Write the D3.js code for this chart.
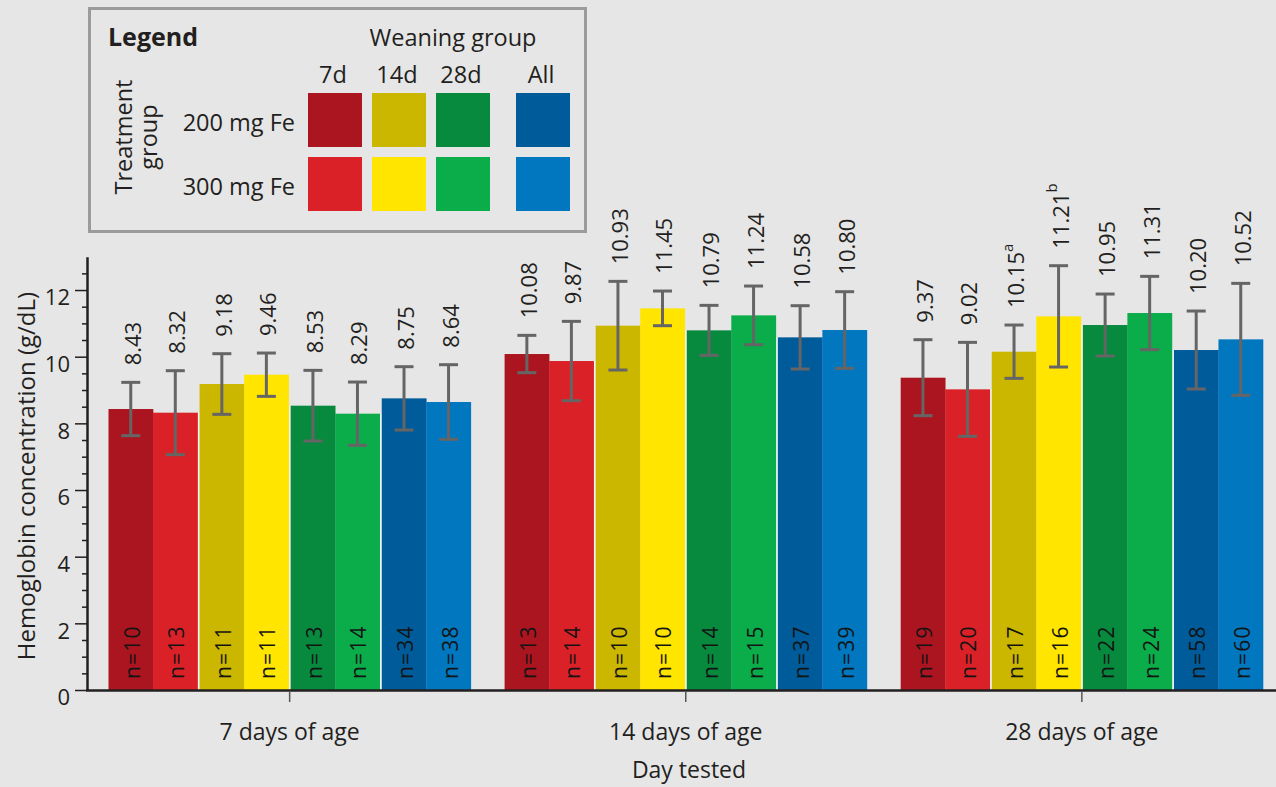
<!DOCTYPE html>
<html><head><meta charset="utf-8">
<script src="https://cdn.jsdelivr.net/npm/d3@7"></script>
<style>
body{margin:0;background:#e6e6e6}
svg{display:block}
text{font-family:"Open Sans",sans-serif;fill:#231f20}
</style>
</head><body><svg id="c" width="1276" height="787"></svg>
<script>
// ---- data ----
const days = ["7 days of age", "14 days of age", "28 days of age"];
const weaning = ["7d", "14d", "28d", "All"];
const treatments = ["200 mg Fe", "300 mg Fe"];
// order within each day: 7d-200, 7d-300, 14d-200, 14d-300, 28d-200, 28d-300, All-200, All-300
const mean7  = [8.43, 8.32, 9.18, 9.46, 8.53, 8.29, 8.75, 8.64];
const mean14 = [10.08, 9.87, 10.93, 11.45, 10.79, 11.24, 10.58, 10.80];
const mean28 = [9.37, 9.02, 10.15, 11.21, 10.95, 11.31, 10.20, 10.52];
const sd7  = [0.80, 1.26, 0.91, 0.65, 1.06, 0.95, 0.95, 1.12];
const sd14 = [0.56, 1.19, 1.33, 0.52, 0.75, 0.88, 0.95, 1.15];
const sd28 = [1.14, 1.41, 0.80, 1.52, 0.93, 1.10, 1.17, 1.68];
const n7  = [10, 13, 11, 11, 13, 14, 34, 38];
const n14 = [13, 14, 10, 10, 14, 15, 37, 39];
const n28 = [19, 20, 17, 16, 22, 24, 58, 60];
const sup7  = ["", "", "", "", "", "", "", ""];
const sup14 = ["", "", "", "", "", "", "", ""];
const sup28 = ["", "", "a", "b", "", "", "", ""];
const yMajorTicks = [0, 2, 4, 6, 8, 10, 12];
const colors200 = ["#ab1520", "#cbb600", "#078a3e", "#005b9a"];
const colors300 = ["#da2128", "#ffe500", "#0bac4a", "#0077bf"];

const means = [mean7, mean14, mean28], sds = [sd7, sd14, sd28], ns = [n7, n14, n28], sups = [sup7, sup14, sup28];
const rows = [];
days.forEach((d, di) => {
  means[di].forEach((m, i) => {
    rows.push({day: d, wean: weaning[Math.floor(i / 2)], treat: treatments[i % 2],
      mean: m, sd: sds[di][i], n: ns[di][i], sup: sups[di][i],
      color: (i % 2 === 0 ? colors200 : colors300)[Math.floor(i / 2)]});
  });
});

// ---- chart ----
const svg = d3.select("#c");
svg.append("rect").attr("width", 1276).attr("height", 787).attr("fill", "#e6e6e6");

const x0 = d3.scaleBand().domain(days).range([108.5, 1263]).paddingInner(0.0853).paddingOuter(0);
const x1 = d3.scaleBand().domain(weaning).range([0, x0.bandwidth()]).paddingInner(0.0222);
const x2 = d3.scaleBand().domain(treatments).range([0, x1.bandwidth()]);
const y = d3.scaleLinear().domain([0, 13]).range([690, 256.7]);

const xb = d => x0(d.day) + x1(d.wean) + x2(d.treat);
const xc = d => xb(d) + x2.bandwidth() / 2;

// light separators between weaning subgroups
const seps = [];
days.forEach(d => {
  for (let k = 1; k < weaning.length; k++) {
    const left = rows.find(r => r.day === d && r.wean === weaning[k - 1] && r.treat === treatments[1]);
    const right = rows.find(r => r.day === d && r.wean === weaning[k] && r.treat === treatments[0]);
    seps.push({x: x0(d) + x1(weaning[k - 1]) + x1.bandwidth(), x2: x0(d) + x1(weaning[k]), v: Math.min(left.mean, right.mean)});
  }
});
svg.append("g").selectAll("rect").data(seps).join("rect")
  .attr("x", s => s.x).attr("width", s => s.x2 - s.x)
  .attr("y", s => y(s.v)).attr("height", s => y(0) - y(s.v))
  .attr("fill", "#f6f6f6");

// bars
svg.append("g").selectAll("rect").data(rows).join("rect")
  .attr("x", xb).attr("width", x2.bandwidth() + 0.3)
  .attr("y", d => y(d.mean)).attr("height", d => y(0) - y(d.mean))
  .attr("fill", d => d.color);

// error bars
const eg = svg.append("g").attr("stroke", "#656565").attr("stroke-width", 3);
eg.selectAll("line.v").data(rows).join("line").attr("class", "v")
  .attr("x1", xc).attr("x2", xc)
  .attr("y1", d => y(d.mean + d.sd)).attr("y2", d => y(d.mean - d.sd));
eg.selectAll("line.t").data(rows).join("line").attr("class", "t")
  .attr("x1", d => xc(d) - 9.5).attr("x2", d => xc(d) + 9.5)
  .attr("y1", d => y(d.mean + d.sd)).attr("y2", d => y(d.mean + d.sd));
eg.selectAll("line.b").data(rows).join("line").attr("class", "b")
  .attr("x1", d => xc(d) - 9.5).attr("x2", d => xc(d) + 9.5)
  .attr("y1", d => y(d.mean - d.sd)).attr("y2", d => y(d.mean - d.sd));

// value labels
const vl = svg.append("g").selectAll("text").data(rows).join("text")
  .attr("transform", d => `translate(${xc(d) + 1},${y(d.mean + d.sd) - 17}) rotate(-90)`)
  .attr("text-anchor", "start").attr("dominant-baseline", "central")
  .style("font-size", "22px");
vl.append("tspan").text(d => d.mean.toFixed(2));
vl.filter(d => d.sup).append("tspan").attr("dy", "-0.55em").style("font-size", "15px").text(d => d.sup);

// n labels
svg.append("g").selectAll("text").data(rows).join("text")
  .attr("transform", d => `translate(${xc(d) + 1},${679}) rotate(-90)`)
  .attr("text-anchor", "start").attr("dominant-baseline", "central")
  .style("font-size", "21px").style("letter-spacing", "1.2px")
  .style("fill", "#141414").style("font-weight", "500")
  .text(d => "n=" + d.n);

// y axis
const yMinor = d3.range(0.5, 13, 0.5).filter(v => !yMajorTicks.includes(v));
const yMinorAxis = svg.append("g").attr("transform", "translate(87,0)")
  .call(d3.axisLeft(y).tickValues(yMinor).tickSize(5).tickFormat(""));
yMinorAxis.select(".domain").remove();
yMinorAxis.selectAll("line").attr("stroke", "#231f20").attr("stroke-width", 1.5);
const yAxis = svg.append("g").attr("transform", "translate(87,0)")
  .call(d3.axisLeft(y).tickValues(yMajorTicks).tickSize(12).tickPadding(5).tickSizeOuter(0));
yAxis.select(".domain").attr("stroke", "#231f20").attr("stroke-width", 2.5);
yAxis.selectAll(".tick line").attr("stroke", "#231f20").attr("stroke-width", 1.5);
yAxis.selectAll(".tick text").attr("dy", "0.68em").style("font-size", "22px")
  .style("font-family", '"Open Sans",sans-serif').attr("fill", "#231f20");

// x axis
svg.append("line").attr("x1", 86).attr("x2", 1276).attr("y1", 690.5).attr("y2", 690.5)
  .attr("stroke", "#231f20").attr("stroke-width", 2.5);
const xAxis = svg.append("g").attr("transform", "translate(0,691)")
  .call(d3.axisBottom(x0).tickSize(11).tickSizeOuter(0));
xAxis.select(".domain").remove();
xAxis.selectAll(".tick line").attr("stroke", "#555").attr("stroke-width", 1.5);
xAxis.selectAll(".tick text").attr("y", 49).attr("dy", "0").style("font-size", "23px")
  .style("font-family", '"Open Sans",sans-serif').attr("fill", "#231f20");

// axis titles
svg.append("text").attr("transform", "translate(35,476) rotate(-90)")
  .attr("text-anchor", "middle").style("font-size", "24px")
  .text("Hemoglobin concentration (g/dL)");
svg.append("text").attr("x", 689).attr("y", 778).attr("text-anchor", "middle")
  .style("font-size", "23px").text("Day tested");

// ---- legend ----
const lg = svg.append("g");
lg.append("rect").attr("x", 89.5).attr("y", 8.5).attr("width", 496).attr("height", 223)
  .attr("fill", "none").attr("stroke", "#9b9b9b").attr("stroke-width", 3);
lg.append("text").attr("x", 108).attr("y", 46).style("font-size", "25px").style("font-weight", "700").text("Legend");
lg.append("text").attr("x", 453).attr("y", 46).attr("text-anchor", "middle").style("font-size", "23.5px").text("Weaning group");
const legX = d3.scaleOrdinal().domain(weaning).range([308, 372, 436, 516]);
const legY = d3.scaleOrdinal().domain(treatments).range([93, 157]);
lg.selectAll("text.col").data(weaning).join("text").attr("class", "col")
  .attr("x", w => legX(w) + 25).attr("y", 83).attr("text-anchor", "middle")
  .style("font-size", "23.5px").text(w => w);
lg.selectAll("text.row").data(treatments).join("text").attr("class", "row")
  .attr("x", 295).attr("y", t => legY(t) + 38).attr("text-anchor", "end")
  .style("font-size", "23.5px").text(t => t);
const sw = [];
treatments.forEach((t, ti) => weaning.forEach((w, wi) => sw.push({t, w, c: (ti === 0 ? colors200 : colors300)[wi]})));
lg.selectAll("rect.sw").data(sw).join("rect").attr("class", "sw")
  .attr("x", d => legX(d.w)).attr("y", d => legY(d.t)).attr("width", 54).attr("height", 54)
  .attr("fill", d => d.c);
lg.append("text").attr("transform", "translate(132,137) rotate(-90)").attr("text-anchor", "middle")
  .style("font-size", "23.5px").text("Treatment");
lg.append("text").attr("transform", "translate(157,137) rotate(-90)").attr("text-anchor", "middle")
  .style("font-size", "23.5px").text("group");
</script>
</body></html>
